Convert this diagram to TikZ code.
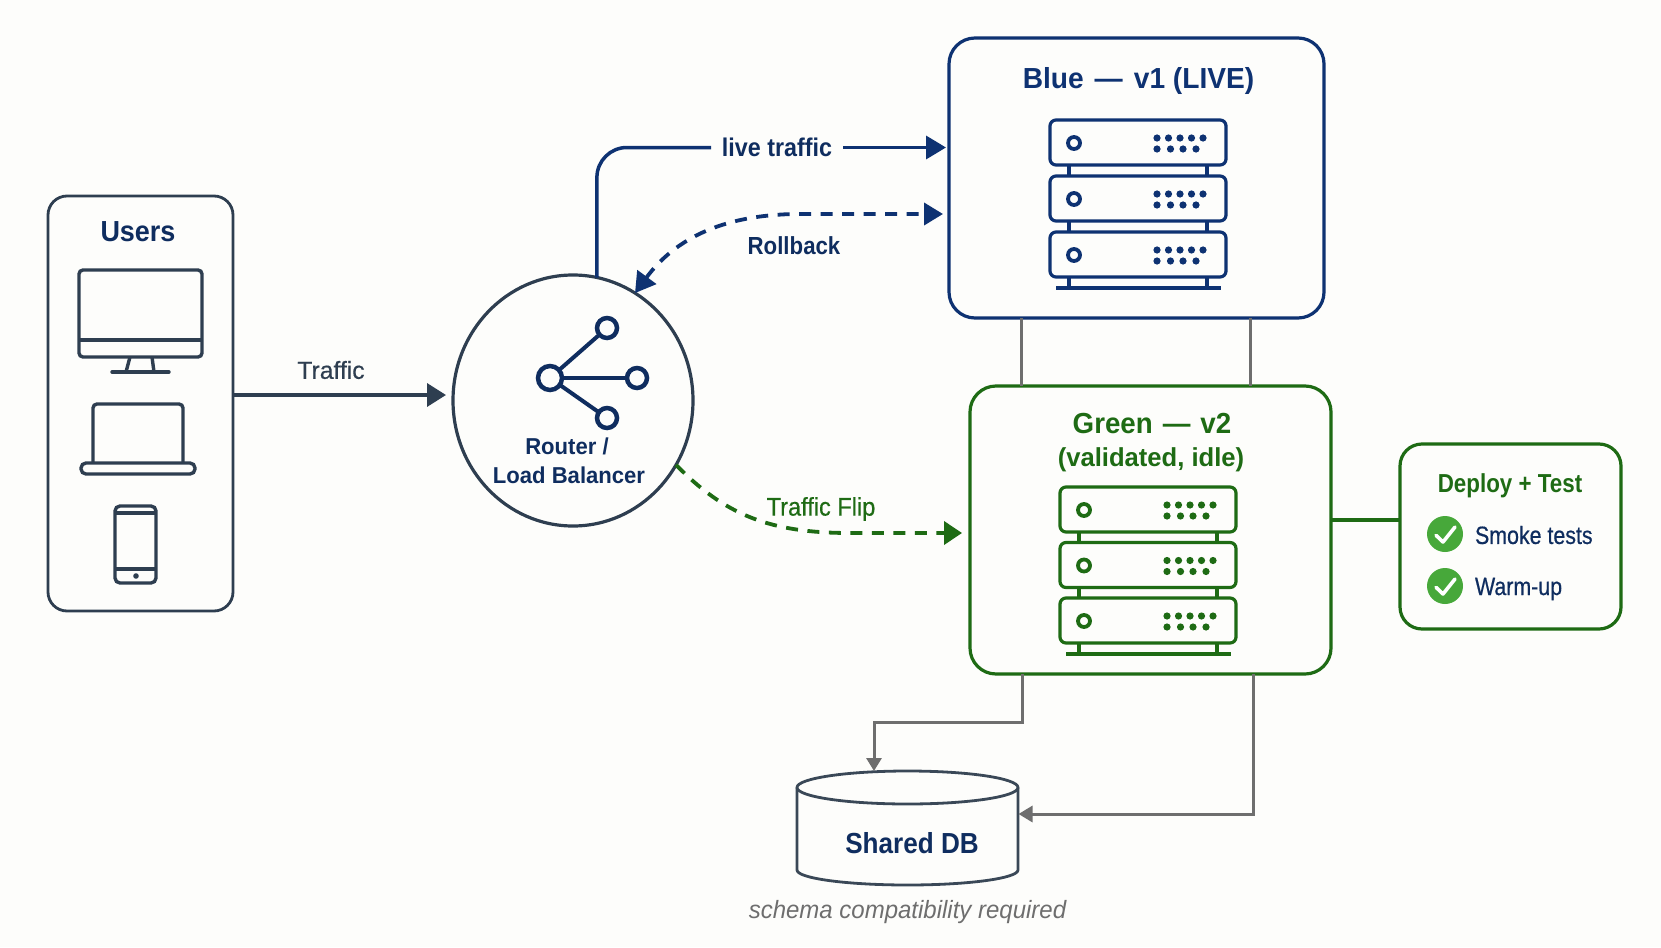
\documentclass[tikz,border=0pt]{standalone}
\usepackage{fontspec}
\setmainfont{Liberation Sans}
\usetikzlibrary{arrows.meta,shapes.geometric,calc}
\definecolor{bgc}{HTML}{FDFDFB}
\definecolor{navy}{HTML}{0F2D5F}
\definecolor{bluel}{HTML}{0E3272}
\definecolor{greenl}{HTML}{1E6B14}
\definecolor{slate}{HTML}{2E3E50}
\definecolor{grayl}{HTML}{6E6E6E}
\definecolor{checkg}{HTML}{47A83A}
\newcommand\cf[2]{\fontsize{#1}{#1}\selectfont\addfontfeature{FakeStretch=#2}}
\newcommand\mf[2]{\fontsize{#1}{#1}\selectfont\addfontfeatures{FakeStretch=#2,FakeBold=0.5}}
\newcommand\serverstack[5]{% left, top, colour, pitch, base offset
  \begin{scope}[shift={(#1,#2)},#3,line width=3.2pt]
    \foreach \k in {0,1,2}{
      \draw[rounded corners=6pt] (0,\k*#4) rectangle (176,\k*#4+45);
      \draw[line width=3.8pt] (24,\k*#4+23) circle[radius=6pt];
      \foreach \dx in {107,118.5,130,141.5,153}
        \fill[#3] (\dx,\k*#4+18) circle[radius=3.6pt];
      \foreach \dx in {107,120.5,133,146}
        \fill[#3] (\dx,\k*#4+29) circle[radius=3.6pt];
      \draw (19,\k*#4+45) -- (19,\k*#4+#4);
      \draw (157,\k*#4+45) -- (157,\k*#4+#4);
    }
    \draw (6,#5) -- (171,#5);
  \end{scope}}
\tikzset{
  x=1pt,y=-1pt,
  boxn/.style={draw,rectangle,outer sep=0pt,inner sep=0pt},
  txt/.style={inner sep=0pt,outer sep=0pt,align=center},
  flow/.style={line width=3.5pt},
  dashflow/.style={line width=3.8pt,dash pattern=on 12pt off 9.5pt},
  icon/.style={slate,line width=3.4pt},
  shareline/.style={draw,circle,navy,line width=4.5pt,inner sep=0pt,outer sep=0pt},
  dbl/.style={grayl,line width=3pt},
  chk/.style={circle,fill=checkg,minimum size=36pt,inner sep=0pt},
}
\begin{document}
\begin{tikzpicture}
\useasboundingbox (0,0) rectangle (1661,947);
\fill[bgc] (0,0) rectangle (1661,947);

% Boxes
\node[boxn,slate,line width=2.8pt,rounded corners=19pt,minimum width=185pt,minimum height=415pt] (users) at (140.5,403.5) {};
\node[boxn,bluel,line width=3.2pt,rounded corners=26pt,minimum width=375pt,minimum height=280pt] (blue) at (1136.5,178) {};
\node[boxn,greenl,line width=3.2pt,rounded corners=26pt,minimum width=361pt,minimum height=288pt] (green) at (1150.5,530) {};
\node[boxn,greenl,line width=3.2pt,rounded corners=22pt,minimum width=221pt,minimum height=185pt] (deploy) at (1510.5,536.5) {};
\node[draw,ellipse,slate,line width=3.2pt,minimum width=240pt,minimum height=251pt,inner sep=0pt,outer sep=0pt] (router) at (573,400.5) {};
\node[inner sep=0pt,outer sep=0pt,minimum width=221pt,minimum height=114pt] (db) at (907.5,828) {};

% DB cylinder
\draw[slate!85!gray,line width=2.8pt] (907.5,787.5) ellipse[x radius=110.5pt,y radius=16.5pt];
\draw[slate!85!gray,line width=2.8pt] (797,787.5) -- (797,870) arc[start angle=180,end angle=360,x radius=110.5pt,y radius=15pt] -- (1018,787.5);

% Titles and labels
\node[txt,navy,font=\bfseries\cf{29}{0.93}] (tusers) at (138,232) {Users};
\node[txt,navy,font=\bfseries\cf{23}{0.96}] (t1) at (567,446) {Router /};
\node[txt,navy,font=\bfseries\cf{23}{0.96}] (t2) at (569,475) {Load Balancer};
\node[txt,bluel,font=\bfseries\cf{29}{0.97}] (tblue) at (1138.5,81) {{\spaceskip=11pt Blue — v1} (LIVE)};
\node[txt,greenl,font=\bfseries\cf{29}{0.955}] (tgreen) at (1152,424) {\spaceskip=10pt Green — v2};
\node[txt,greenl,font=\bfseries\cf{26}{0.985}] (tgreen2) at (1151,460) {(validated, idle)};
\node[txt,greenl,font=\bfseries\cf{26}{0.86}] (tdeploy) at (1510,485.5) {Deploy + Test};
\node[txt,navy,font=\mf{25}{0.855},anchor=west] (ts) at (1475,535) {Smoke tests};
\node[txt,navy,font=\mf{25}{0.855},anchor=west] (tw) at (1475,589) {Warm-up};
\node[txt,navy,font=\bfseries\cf{29}{0.9}] (tdb) at (912,843) {Shared DB};
\node[txt,grayl,font=\itshape\cf{25}{0.96}] (tschema) at (907.5,912) {schema compatibility required};
\node[txt,slate,font=\mf{24.7}{1}] (ttraffic) at (331,370) {Traffic};
\node[txt,navy,font=\bfseries\cf{24.7}{0.9}] (troll) at (794,246) {Rollback};
\node[txt,greenl,font=\mf{25.6}{0.92}] (tflip) at (821,509) {Traffic Flip};
\node[txt,navy,font=\bfseries\cf{25.6}{0.91},minimum width=132pt] (live) at (777,147.5) {live traffic};

% Connectors
\draw[flow,slate,-{Triangle[length=19pt,width=23pt]}] ([yshift=8.5pt]users.east) -- ([xshift=-7pt,yshift=5.5pt]router.west);
\draw[flow,bluel,rounded corners=30pt] (router.79.9) |- (live.west);
\draw[flow,bluel,-{Triangle[length=20pt,width=23pt]}] (live.east) -- ([xshift=-3pt,yshift=30.5pt]blue.west);
\draw[dashflow,bluel,{Triangle[length=20pt,width=23pt]}-{Triangle[length=19pt,width=22pt]}]
  (router.60) .. controls (680,232) and (735,214) .. (800,214) -- ([xshift=-6pt,yshift=-36pt]blue.west);
\draw[dashflow,greenl,-{Triangle[length=18pt,width=23pt]}]
  (router.-32) .. controls (725,515) and (770,533) .. (850,533) -- ([xshift=-8pt,yshift=-3pt]green.west);
\draw[dbl] ([xshift=-115.5pt]blue.south) -- ([xshift=-129.5pt]green.north);
\draw[dbl] ([xshift=113.5pt]blue.south) -- ([xshift=99.5pt]green.north);
\draw[greenl,line width=3.5pt] ([yshift=10pt]green.east) -- ([yshift=16.5pt]deploy.west);
\draw[dbl,-{Triangle[length=13pt,width=15pt]}] ([xshift=-128.5pt]green.south) -- ++(0,48) -| ([xshift=-33.5pt]db.north);
\draw[dbl,-{Triangle[length=14pt,width=16pt]}] ([xshift=102.5pt]green.south) |- ([xshift=0.5pt,yshift=14pt]db.east);

% Monitor
\draw[icon,rounded corners=4pt] (79,270) rectangle (202,357);
\draw[icon] (79,340) -- (202,340);
\draw[icon] (130,357) -- (126,372);
\draw[icon] (152,357) -- (154,372);
\draw[icon,line cap=round] (112,372) -- (169,372);
% Laptop
\draw[icon,rounded corners=4pt] (93,463) -- (93,404) -- (183,404) -- (183,463);
\draw[icon,rounded corners=5pt] (81,463) rectangle (195,474);
% Phone
\draw[icon,rounded corners=5pt] (115,506) rectangle (156,583);
\draw[icon] (115,513) -- (156,513);
\draw[icon] (115,569) -- (156,569);
\fill[slate] (136,576) circle[radius=2.8pt];

% Router icon
\node[shareline,minimum size=24pt] (hub) at (550,378) {};
\node[shareline,minimum size=20pt] (n1) at (607,328) {};
\node[shareline,minimum size=20pt] (n2) at (637,378) {};
\node[shareline,minimum size=20pt] (n3) at (607,418) {};
\draw[navy,line width=4pt] (hub) -- (n1);
\draw[navy,line width=4pt] (hub) -- (n2);
\draw[navy,line width=4pt] (hub) -- (n3);

% Servers
\serverstack{1050}{120}{bluel}{56}{168}
\serverstack{1060}{487}{greenl}{55.5}{167}

% Checks
\node[chk] (c1) at (1445,534) {};
\node[chk] (c2) at (1445,586) {};
\draw[white,line width=3.6pt,line cap=round,line join=round] (1436,535.3) -- (1443,542) -- (1455,527);
\draw[white,line width=3.6pt,line cap=round,line join=round] (1436,587.3) -- (1443,594) -- (1455,579);
\end{tikzpicture}
\end{document}
